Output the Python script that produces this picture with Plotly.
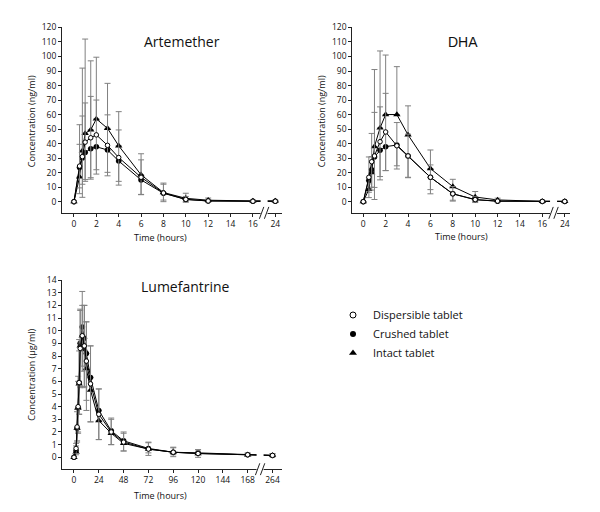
import plotly.graph_objects as go

W, H = 600, 512

# ---------------- data ----------------
series_names = ["Dispersible tablet", "Crushed tablet", "Intact tablet"]

# Artemether (ng/ml)
art_time = [0, 0.5, 0.75, 1, 1.5, 2, 3, 4, 6, 8, 10, 12, 16, 24]
art_disp = [0, 24.5, 31, 41, 44, 46, 38.8, 30.4, 16.8, 6, 1.6, 0.5, 0.3, 0.3]
art_disp_sd = [0, 15, 28, 27, 28.5, 24, 21, 19, 12, 6, 2, 1, 0.3, 0.3]
art_crush = [0, 23.5, 30, 33.8, 36.5, 37.8, 35.6, 28, 15, 5.8, 1.5, 0.5, 0.3, 0.3]
art_crush_sd = [0, 18, 18, 18.6, 20, 18.8, 15.4, 14, 10, 4.7, 1.5, 0.5, 0.3, 0.3]
art_intact = [0, 17, 35, 47, 49.5, 57, 50.5, 38.5, 18.5, 6.3, 2.3, 1.0, 0.5, 0.5]
art_intact_sd = [0, 36, 57, 65, 47.5, 42.5, 31, 23.5, 14.5, 6.5, 3.5, 1.5, 0.5, 0.5]

# DHA (ng/ml)
dha_time = [0, 0.5, 0.75, 1, 1.5, 2, 3, 4, 6, 8, 10, 12, 16, 24]
dha_disp = [0, 16.8, 27.5, 31.5, 41.3, 48, 38.5, 31.5, 16.8, 5.4, 1.4, 0.4, 0.2, 0.2]
dha_disp_sd = [0, 14, 19.5, 30, 24, 26.6, 16, 15, 8.5, 5, 2, 1, 0.2, 0.2]
dha_crush = [0, 14.5, 22, 30.8, 35.4, 37.9, 39, 31.5, 16.8, 5.4, 1.4, 0.3, 0.2, 0.2]
dha_crush_sd = [0, 8, 12, 21, 20.4, 16.5, 14.3, 14.7, 11.4, 4.4, 1.2, 0.3, 0.2, 0.2]
dha_intact = [0, 8.5, 20, 38, 50.8, 60, 60, 46, 22.8, 10.4, 3.2, 1.2, 0.2, 0.2]
dha_intact_sd = [0, 8, 11, 53, 53, 41, 33, 20, 12.8, 5, 3.8, 1.2, 0.3, 0.3]

# Lumefantrine (µg/ml)
lum_time = [0, 2, 3, 4, 5, 6, 8, 10, 12, 16, 24, 36, 48, 72, 96, 120, 168, 264]
lum_disp = [0, 0.7, 2.4, 4.0, 5.9, 8.6, 9.6, 8.8, 7.6, 5.8, 3.4, 2.0, 1.2, 0.65, 0.4, 0.3, 0.2, 0.15]
lum_disp_sd = [0, 0.4, 1.2, 2.0, 2.5, 3.0, 2.4, 3.2, 3.1, 3.0, 2.0, 1.0, 0.7, 0.5, 0.35, 0.3, 0.1, 0.1]
lum_crush = [0, 0.5, 2.3, 3.9, 5.9, 9.0, 10.3, 9.4, 8.2, 6.3, 3.7, 2.1, 1.3, 0.7, 0.4, 0.35, 0.2, 0.15]
lum_crush_sd = [0, 0.3, 1.0, 2.0, 2.5, 3.5, 3.5, 3.9, 4.5, 3.5, 2.3, 1.1, 0.8, 0.35, 0.2, 0.15, 0.1, 0.1]
lum_intact = [0, 0.4, 2.3, 3.9, 5.8, 8.8, 9.6, 8.5, 7.0, 5.3, 2.9, 1.9, 1.1, 0.65, 0.4, 0.3, 0.2, 0.15]
lum_intact_sd = [0, 0.5, 1.5, 2.5, 3.5, 2.9, 3.5, 3.5, 3.7, 3.5, 2.5, 1.2, 0.9, 0.55, 0.4, 0.3, 0.15, 0.15]

# tick labels
ad_xticks = [0, 2, 4, 6, 8, 10, 12, 14, 16, 24]
ad_yticks = list(range(0, 121, 10))
lum_xticks = [0, 24, 48, 72, 96, 120, 144, 168, 264]
lum_yticks = list(range(0, 15))

# ---------------- layout helpers ----------------
FONT = "Open Sans"
ERR = "#808080"
TXT = "#111"

panels = {
    "art": dict(ax="", xdom=(62, 282), ydom=(209.3, 21.7), xr=(-1.07, 18.6), yr=(-7.7, 120),
                cut=16, shown=18, brk=17.0),
    "dha": dict(ax="2", xdom=(352.3, 570), ydom=(209.3, 21.7), xr=(-0.98, 18.47), yr=(-7.7, 120),
                cut=16, shown=18, brk=17.0),
    "lum": dict(ax="3", xdom=(62.3, 281.7), ydom=(468.7, 277.3), xr=(-11.3, 200.9), yr=(-0.94, 14),
                cut=168, shown=192, brk=180.0),
}


def disp_x(times, cut, shown):
    # broken axis: the last sample is drawn just after the break
    return [t if t <= cut else shown for t in times]


fig = go.Figure()


def add_series(p, times, disp, disp_sd, crush, crush_sd, intact, intact_sd):
    P = panels[p]
    xs = disp_x(times, P["cut"], P["shown"])
    xa = "x" + P["ax"]
    ya = "y" + P["ax"]
    zeros = [0] * len(times)
    common = dict(x=xs, xaxis=xa, yaxis=ya, mode="lines+markers", showlegend=False,
                  line=dict(color="black", width=1), hoverinfo="skip")
    fig.add_trace(go.Scatter(y=crush, **common,
                             marker=dict(symbol="circle", size=5.5, color="black"),
                             error_y=dict(type="data", symmetric=False, array=zeros,
                                          arrayminus=crush_sd, color=ERR, thickness=1, width=3)))
    fig.add_trace(go.Scatter(y=intact, **common,
                             marker=dict(symbol="triangle-up", size=6.5, color="black"),
                             error_y=dict(type="data", symmetric=False, array=intact_sd,
                                          arrayminus=zeros, color=ERR, thickness=1, width=3)))
    fig.add_trace(go.Scatter(y=disp, **common,
                             marker=dict(symbol="circle", size=4.5, color="white",
                                         line=dict(color="black", width=1)),
                             error_y=dict(type="data", symmetric=True, array=disp_sd,
                                          color=ERR, thickness=1, width=3)))


add_series("art", art_time, art_disp, art_disp_sd, art_crush, art_crush_sd, art_intact, art_intact_sd)
add_series("dha", dha_time, dha_disp, dha_disp_sd, dha_crush, dha_crush_sd, dha_intact, dha_intact_sd)
add_series("lum", lum_time, lum_disp, lum_disp_sd, lum_crush, lum_crush_sd, lum_intact, lum_intact_sd)

# legend-only traces
leg_markers = [
    dict(symbol="circle", size=6, color="white", line=dict(color="black", width=1)),
    dict(symbol="circle", size=6, color="black"),
    dict(symbol="triangle-up", size=7, color="black"),
]
for name, mk in zip(series_names, leg_markers):
    fig.add_trace(go.Scatter(x=[None], y=[None], mode="markers", marker=mk, name=name,
                             xaxis="x", yaxis="y", showlegend=True))

tickfont = dict(family=FONT, size=8.5, color=TXT)
layout = dict(width=W, height=H, margin=dict(l=0, r=0, t=0, b=0),
              paper_bgcolor="white", plot_bgcolor="white",
              font=dict(family=FONT, color=TXT),
              legend=dict(x=333 / W, y=1 - 298 / H, xanchor="left", yanchor="top",
                          font=dict(family=FONT, size=11, color=TXT),
                          bgcolor="rgba(0,0,0,0)", itemclick=False, itemdoubleclick=False))

for key, P in panels.items():
    if key == "lum":
        xt, yt = lum_xticks, lum_yticks
    else:
        xt, yt = ad_xticks, ad_yticks
    xvals = disp_x(xt, P["cut"], P["shown"])
    layout["xaxis" + P["ax"]] = dict(
        domain=[P["xdom"][0] / W, P["xdom"][1] / W], range=list(P["xr"]),
        anchor="y" + P["ax"], tickvals=xvals, ticktext=[str(v) for v in xt],
        showline=True, linecolor="#222", linewidth=1, ticks="outside", ticklen=3,
        tickcolor="#222", showgrid=False, zeroline=False, tickfont=tickfont, fixedrange=True)
    layout["yaxis" + P["ax"]] = dict(
        domain=[1 - P["ydom"][0] / H, 1 - P["ydom"][1] / H], range=list(P["yr"]),
        anchor="x" + P["ax"], tickvals=yt, ticktext=[str(v) for v in yt],
        showline=True, linecolor="#222", linewidth=1, ticks="outside", ticklen=3,
        tickcolor="#222", showgrid=False, zeroline=False, tickfont=tickfont, fixedrange=True)

fig.update_layout(**layout)

# axis break: white gap + "//"
shapes = []
for key, P in panels.items():
    x0, x1 = P["xdom"]
    r0, r1 = P["xr"]
    cx = x0 + (P["brk"] - r0) / (r1 - r0) * (x1 - x0)
    ay = P["ydom"][0]
    shapes.append(dict(type="rect", xref="paper", yref="paper", layer="above",
                       x0=(cx - 3.5) / W, x1=(cx + 3.5) / W,
                       y0=1 - (ay + 2) / H, y1=1 - (ay - 17) / H,
                       fillcolor="white", line=dict(width=0)))
    for off in (-2.5, 2.5):
        shapes.append(dict(type="line", xref="paper", yref="paper", layer="above",
                           x0=(cx + off - 2.2) / W, y0=1 - (ay + 6) / H,
                           x1=(cx + off + 2.2) / W, y1=1 - (ay - 6) / H,
                           line=dict(color="#222", width=1)))
fig.update_layout(shapes=shapes)

# titles as annotations
ann = []


def add_text(text, px, py, size, angle=0, family=FONT):
    ann.append(dict(text=text, x=px / W, y=1 - py / H, xref="paper", yref="paper",
                    showarrow=False, xanchor="center", yanchor="middle", textangle=angle,
                    font=dict(family=family, size=size, color=TXT)))


add_text("Artemether", 182, 36, 14)
add_text("DHA", 463, 36, 14, family="Liberation Sans")
add_text("Lumefantrine", 185, 284, 14)
add_text("Concentration (ng/ml)", 31.5, 117, 9, -90)
add_text("Concentration (ng/ml)", 321.5, 117, 9, -90)
add_text("Concentration (µg/ml)", 32, 373, 9, -90)
add_text("Time (hours)", 160, 234, 9)
add_text("Time (hours)", 461.7, 233.5, 9)
add_text("Time (hours)", 160, 495, 9)
fig.update_layout(annotations=ann)

fig.write_html("out.html", config={"displayModeBar": False},
               post_script="document.body.style.margin='0';")
